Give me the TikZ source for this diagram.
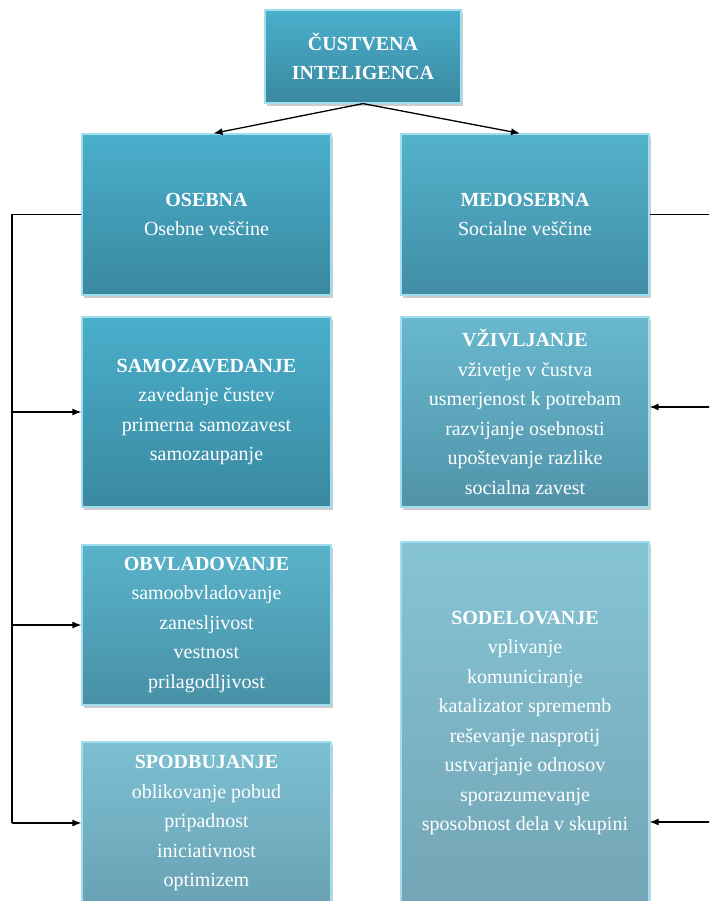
\documentclass[tikz,border=0pt]{standalone}
\usepackage{fontspec}
\setmainfont{Liberation Serif}
\usetikzlibrary{arrows.meta,shadows}
\definecolor{tA}{HTML}{4AAFCB}\definecolor{bA}{HTML}{3A88A0}
\definecolor{tB}{HTML}{54B2CB}\definecolor{bB}{HTML}{418DA5}
\definecolor{tC}{HTML}{68B8CE}\definecolor{bC}{HTML}{5193A9}
\definecolor{tD}{HTML}{59B3CB}\definecolor{bD}{HTML}{4890A6}
\definecolor{tE}{HTML}{7CC0D2}\definecolor{bE}{HTML}{69A2B4}
\definecolor{tF}{HTML}{85C4D5}\definecolor{bF}{HTML}{73A5B5}
\definecolor{rim}{HTML}{A0DEEE}
\begin{document}
\begin{tikzpicture}[x=1pt,y=-1pt,
  box/.style={rectangle, inner sep=2pt, align=center, text=white,
    font=\fontsize{20}{29.5}\selectfont, draw=rim, line width=1.2pt,
    drop shadow={opacity=0.4, shadow xshift=2pt, shadow yshift=-3pt}},
  conn/.style={draw=black, line width=1.3pt},
  arr/.style={conn, -{Latex[length=9pt,width=7pt]}}]
\useasboundingbox (0,0) rectangle (709,901);
\clip (0,0) rectangle (709,901);
\fill[white] (0,0) rectangle (709,901);

\node[box, top color=tA, bottom color=bA, minimum width=196pt, minimum height=93pt]
  (top) at (363,56.5) {\textbf{ČUSTVENA}\\\textbf{INTELIGENCA}};

\node[box, top color=tA, bottom color=bA, minimum width=249pt, minimum height=161pt]
  (os) at (206.5,214.5) {\textbf{OSEBNA}\\Osebne veščine};
\node[box, top color=tB, bottom color=bB, minimum width=248pt, minimum height=161pt]
  (med) at (525,214.5) {\textbf{MEDOSEBNA}\\Socialne veščine};

\node[box, top color=tA, bottom color=bA, minimum width=249pt, minimum height=190pt]
  (samo) at (206.5,412) {\textbf{SAMOZAVEDANJE}\\zavedanje čustev\\primerna samozavest\\samozaupanje};
\node[box, top color=tC, bottom color=bC, minimum width=248pt, minimum height=190pt]
  (viz) at (525,412) {\textbf{VŽIVLJANJE}\\vživetje v čustva\\usmerjenost k potrebam\\razvijanje osebnosti\\upoštevanje razlike\\socialna zavest};

\node[box, top color=tD, bottom color=bD, minimum width=249pt, minimum height=160pt]
  (obv) at (206.5,625) {\textbf{OBVLADOVANJE}\\samoobvladovanje\\zanesljivost\\vestnost\\prilagodljivost};
\node[box, top color=tE, bottom color=bE, minimum width=249pt, minimum height=162pt]
  (spod) at (206.5,823) {\textbf{SPODBUJANJE}\\oblikovanje pobud\\pripadnost\\iniciativnost\\optimizem};
\node[box, top color=tF, bottom color=bF, minimum width=248pt, minimum height=362pt]
  (sod) at (525,723) {\textbf{SODELOVANJE}\\vplivanje\\komuniciranje\\katalizator sprememb\\reševanje nasprotij\\ustvarjanje odnosov\\sporazumevanje\\sposobnost dela v skupini};

% top arrows
\draw[arr] (top.south) -- ([xshift=7pt]os.north);
\draw[arr] (top.south) -- ([xshift=-5pt]med.north);

% left connectors
\coordinate (L) at (12,214.5);
\draw[conn] (os.west) -- (L);
\draw[conn] (L) -- (L |- spod.west);
\draw[arr] (L |- samo.west) -- (samo.west);
\draw[arr] (L |- obv.west) -- (obv.west);
\draw[arr] (L |- spod.west) -- (spod.west);

% right connectors
\coordinate (R0) at (711,214.5);
\coordinate (R1) at (711,407);
\coordinate (R2) at (711,822);
\draw[conn] (med.east) -- (R0) -- (R2);
\draw[arr] (R1) -- (R1 -| viz.east);
\draw[arr] (R2) -- (R2 -| sod.east);
\end{tikzpicture}
\end{document}
